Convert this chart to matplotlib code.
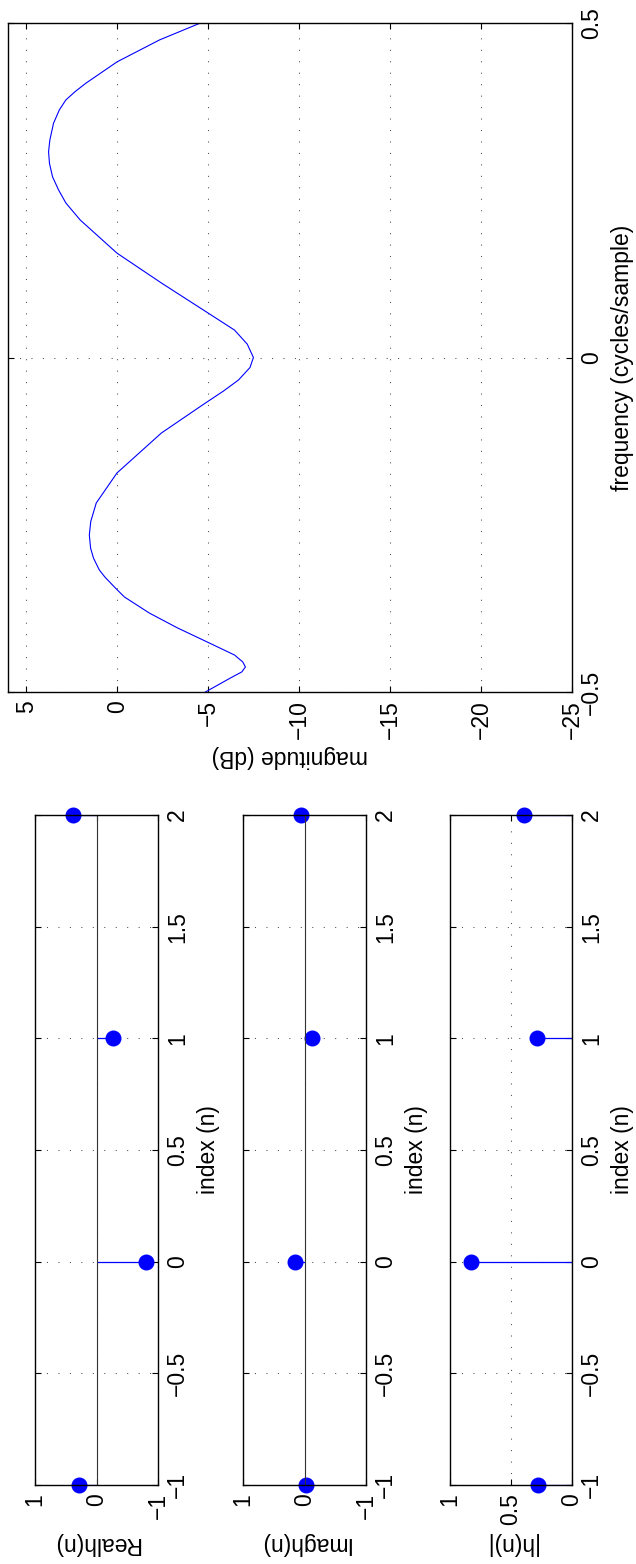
import matplotlib
matplotlib.use("Agg")
import matplotlib.pyplot as plt

plt.rcParams['font.family'] = ['Liberation Sans', 'DejaVu Sans']
plt.rcParams['font.size'] = 16.5

# stem data, index n = -1..2
index_n = [-1, 0, 1, 2]
real_h = [0.29, -0.81, -0.27, 0.39]
imag_h = [-0.02, 0.15, -0.13, 0.06]
abs_h = [0.28, 0.83, 0.29, 0.39]

# magnitude response
freq = [-0.500, -0.479, -0.470, -0.4626, -0.455, -0.4447, -0.4268, -0.404, -0.382,
        -0.358, -0.3445, -0.328, -0.3176, -0.300, -0.285, -0.2653, -0.245, -0.2175,
        -0.1726, -0.1129, -0.071, -0.050, -0.0336, -0.015, 0.000, 0.020, 0.041, 0.068,
        0.1114, 0.156, 0.2055, 0.231, 0.2504, 0.270, 0.290, 0.3076, 0.325, 0.350,
        0.370, 0.385, 0.397, 0.410, 0.442, 0.4746, 0.500]
mag_db = [-4.85, -6.23, -6.85, -7.05, -6.90, -6.45, -5.07, -3.30, -1.77,
          -0.40, 0.10, 0.68, 0.98, 1.30, 1.46, 1.53, 1.45, 1.15,
          0.01, -2.43, -4.69, -5.85, -6.67, -7.30, -7.49, -7.15, -6.45, -4.91,
          -2.43, 0.01, 2.03, 2.82, 3.22, 3.55, 3.72, 3.77, 3.70, 3.50,
          3.18, 2.82, 2.33, 1.72, 0.00, -2.32, -4.58]

idx_ticks = [-1, -0.5, 0, 0.5, 1, 1.5, 2]
idx_labels = ['\u22121', '\u22120.5', '0', '0.5', '1', '1.5', '2']
ri_ticks = [1, 0, -1]
ri_labels = ['1', '0', '\u22121']
abs_ticks = [1, 0.5, 0]
abs_labels = ['1', '0.5', '0']
db_ticks = [5, 0, -5, -10, -15, -20, -25]
db_labels = ['5', '0', '\u22125', '\u221210', '\u221215', '\u221220', '\u221225']
f_ticks = [-0.5, 0, 0.5]
f_labels = ['\u22120.5', '0', '0.5']

W, H = 636, 1564
fig = plt.figure(figsize=(W / 100, H / 100), dpi=100)


def box(x0, x1, y0, y1):
    return [x0 / W, 1 - y1 / H, (x1 - x0) / W, (y1 - y0) / H]


grid_style = dict(linestyle=(0, (1, 10)), color='0.3', linewidth=0.75)


def style(ax):
    ax.tick_params(direction='in', top=True, right=True, left=True, bottom=True,
                   labelleft=False, labelright=True, length=4, width=0.8, pad=6)
    for lab in ax.get_yticklabels():
        lab.set_rotation(90)
        lab.set_va('center')
    for lab in ax.get_xticklabels():
        lab.set_rotation(90)
        lab.set_ha('center')
        lab.set_va('top')
    for s in ax.spines.values():
        s.set_linewidth(1.0)
    ax.grid(True, **grid_style)
    ax.set_axisbelow(True)


# magnitude panel
ax = fig.add_axes(box(8, 572, 23, 692))
ax.plot(mag_db, freq, color='#0000ff', linewidth=0.8)
ax.set_xlim(6, -25)
ax.set_ylim(-0.5, 0.5)
ax.set_xticks(db_ticks, db_labels)
ax.set_yticks(f_ticks, f_labels)
style(ax)
ax.set_xlabel('magnitude (dB)', rotation=180, ha='center', va='center')
ax.xaxis.set_label_coords(0.5, -0.097)
ax.set_ylabel('frequency (cycles/sample)', rotation=90, ha='center', va='center')
ax.yaxis.set_label_coords(1.089, 0.5)

panels = [
    (35, 158, real_h, (1, -1), ri_ticks, ri_labels, 'Realh(n)'),
    (243, 366, imag_h, (1, -1), ri_ticks, ri_labels, 'Imagh(n)'),
    (450, 572, abs_h, (1, 0), abs_ticks, abs_labels, '|h(n)|'),
]
for x0, x1, vals, lim, vt, vl, name in panels:
    ax = fig.add_axes(box(x0, x1, 815, 1485))
    ml, sl, bl = ax.stem(index_n, vals, orientation='horizontal',
                         linefmt='b-', markerfmt='bo', basefmt='k-')
    ml.set_markersize(10.5)
    ml.set_color('#0000ff')
    ml.set_clip_on(False)
    sl.set_color('#0000ff')
    sl.set_linewidth(0.9)
    bl.set_linewidth(0.8)
    bl.set_color('0.2')
    ax.set_xlim(*lim)
    ax.set_ylim(-1, 2)
    ax.set_xticks(vt, vl)
    ax.set_yticks(idx_ticks, idx_labels)
    style(ax)
    ax.set_xlabel(name, rotation=180, ha='center', va='center')
    ax.xaxis.set_label_coords(0.5, -0.088)
    ax.set_ylabel('index (n)', rotation=90, ha='center', va='center')
    ax.yaxis.set_label_coords(1.41, 0.5)

fig.savefig('out.png', dpi=100)
